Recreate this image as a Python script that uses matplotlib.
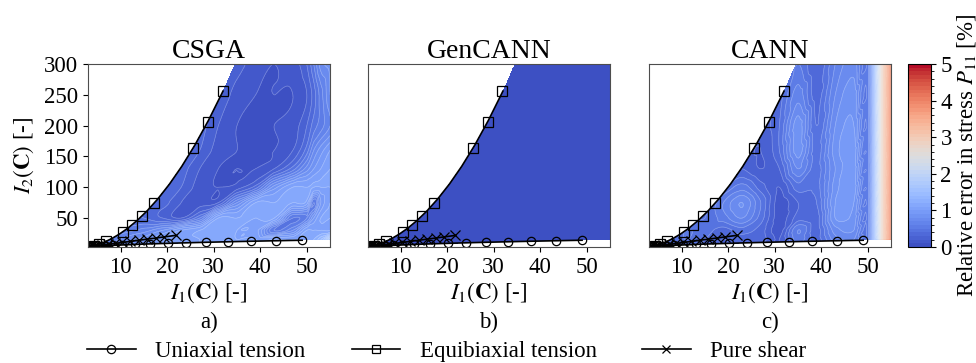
import numpy as np
import matplotlib
matplotlib.use("Agg")
import matplotlib.pyplot as plt
import matplotlib.tri as mtri
from matplotlib.lines import Line2D
from matplotlib.ticker import MultipleLocator

plt.rcParams['font.family'] = 'serif'
plt.rcParams['font.serif'] = ['Liberation Serif', 'DejaVu Serif']
plt.rcParams['mathtext.fontset'] = 'stix'
plt.rcParams['font.size'] = 16.5

# load paths (invariant space)
ua_I1 = [3.0, 3.1, 3.4, 3.9, 4.6, 5.6, 6.8, 8.3, 10.4, 13.0, 16.3, 20.1, 24.0, 28.4, 33.0, 38.0, 43.3, 49.0]
ua_I2 = [3.0, 3.1, 3.34, 3.65, 4.04, 4.55, 5.07, 5.63, 6.34, 7.14, 8.02, 8.91, 9.76, 10.63, 11.46, 12.31, 13.14, 13.98]

eq_I1 = [3.0, 3.4, 4.2, 5.3, 6.9, 10.5, 12.5, 14.6, 17.2, 25.6, 28.7, 31.9]
eq_I2 = [3.0, 3.5, 4.9, 7.3, 12.2, 27.5, 39.4, 53.4, 73.9, 163.5, 206.5, 256.5]

eq_line_I1 = [3.0, 3.36, 4.18, 5.27, 6.58, 8.06, 9.72, 11.55, 13.54, 15.70, 18.01, 20.49, 23.13, 25.93, 28.88, 32.0]
eq_line_I2 = [3.0, 3.46, 4.86, 7.34, 11.11, 16.5, 23.84, 33.52, 45.99, 61.72, 81.22, 105.05, 133.8, 168.1, 208.7, 256.1]

ps_I1 = [3.0, 3.2, 3.6, 4.2, 5.0, 6.0, 7.2, 8.7, 10.3, 12.1, 13.9, 15.7, 17.6, 19.3, 21.8]
ps_I2 = [3.0, 3.2, 3.6, 4.2, 5.0, 6.0, 7.2, 8.7, 10.3, 12.1, 13.9, 15.7, 17.6, 19.3, 21.8]

# edges of the filled region beyond the last data points
lower_end = (55.0, 14.8)
upper_end = (34.6, 300.0)

# coarse error estimates [%] on a grid (rows: I2, cols: I1)
grid_I1 = [3, 7, 11, 15, 19, 23, 27, 31, 35, 39, 43, 47, 50, 51.5, 53, 55]
grid_I2 = [3, 15, 30, 50, 75, 100, 130, 160, 200, 250, 300]

csga_err = [
    [0.5, 0.7, 0.8, 0.9, 1.0, 1.05, 1.1, 1.1, 1.1, 1.1, 1.1, 1.1, 1.1, 1.3, 1.6, 2.0],
    [0.5, 0.6, 0.75, 0.85, 1.0, 1.05, 1.1, 1.1, 1.1, 1.1, 1.1, 1.1, 1.1, 1.2, 1.4, 1.8],
    [0.5, 0.5, 0.55, 0.65, 0.8, 1.0, 1.1, 1.1, 1.1, 1.05, 0.5, 0.7, 1.1, 1.1, 1.1, 1.1],
    [0.4, 0.4, 0.45, 0.4, 0.3, 0.2, 0.5, 1.1, 1.1, 1.1, 1.1, 0.5, 0.6, 0.9, 1.1, 1.1],
    [0.4, 0.4, 0.4, 0.4, 0.35, 0.2, 0.15, 0.2, 0.7, 1.1, 1.1, 1.1, 1.05, 0.5, 0.9, 1.1],
    [0.4, 0.4, 0.4, 0.4, 0.4, 0.3, 0.15, 0.1, 0.15, 0.35, 0.85, 1.1, 1.1, 1.1, 1.1, 1.1],
    [0.4, 0.4, 0.4, 0.4, 0.4, 0.35, 0.2, 0.1, 0.1, 0.1, 0.2, 0.45, 0.75, 0.9, 1.0, 1.1],
    [0.4, 0.4, 0.4, 0.4, 0.4, 0.4, 0.3, 0.15, 0.1, 0.1, 0.1, 0.2, 0.45, 0.7, 0.85, 1.0],
    [0.4, 0.4, 0.4, 0.4, 0.4, 0.4, 0.35, 0.2, 0.1, 0.1, 0.1, 0.15, 0.3, 0.45, 0.55, 0.7],
    [0.4, 0.4, 0.4, 0.4, 0.4, 0.4, 0.4, 0.3, 0.15, 0.1, 0.1, 0.1, 0.2, 0.35, 0.55, 0.8],
    [0.4, 0.4, 0.4, 0.4, 0.4, 0.4, 0.4, 0.35, 0.25, 0.15, 0.1, 0.15, 0.3, 0.5, 0.75, 0.85],
]

gencann_err = [
    [0.05, 0.05, 0.05, 0.05, 0.05, 0.05, 0.05, 0.05, 0.05, 0.05, 0.05, 0.05, 0.05, 0.05, 0.05, 0.05],
    [0.05, 0.05, 0.05, 0.05, 0.05, 0.05, 0.05, 0.05, 0.05, 0.05, 0.05, 0.05, 0.05, 0.05, 0.05, 0.05],
    [0.05, 0.05, 0.05, 0.05, 0.05, 0.05, 0.05, 0.05, 0.05, 0.05, 0.05, 0.05, 0.05, 0.05, 0.05, 0.05],
    [0.05, 0.05, 0.05, 0.05, 0.05, 0.05, 0.05, 0.05, 0.05, 0.05, 0.05, 0.05, 0.05, 0.05, 0.05, 0.05],
    [0.05, 0.05, 0.05, 0.05, 0.05, 0.05, 0.05, 0.05, 0.05, 0.05, 0.05, 0.05, 0.05, 0.05, 0.05, 0.05],
    [0.05, 0.05, 0.05, 0.05, 0.05, 0.05, 0.05, 0.05, 0.05, 0.05, 0.05, 0.05, 0.05, 0.05, 0.05, 0.05],
    [0.05, 0.05, 0.05, 0.05, 0.05, 0.05, 0.05, 0.05, 0.05, 0.05, 0.05, 0.05, 0.05, 0.05, 0.05, 0.05],
    [0.05, 0.05, 0.05, 0.05, 0.05, 0.05, 0.05, 0.05, 0.05, 0.05, 0.05, 0.05, 0.05, 0.05, 0.05, 0.05],
    [0.05, 0.05, 0.05, 0.05, 0.05, 0.05, 0.05, 0.05, 0.05, 0.05, 0.05, 0.05, 0.05, 0.05, 0.05, 0.05],
    [0.05, 0.05, 0.05, 0.05, 0.05, 0.05, 0.05, 0.05, 0.05, 0.05, 0.05, 0.05, 0.05, 0.05, 0.05, 0.05],
    [0.05, 0.05, 0.05, 0.05, 0.05, 0.05, 0.05, 0.05, 0.05, 0.05, 0.05, 0.05, 0.05, 0.05, 0.05, 0.05],
]

cann_err = [
    [0.3, 0.4, 0.45, 0.35, 0.3, 0.3, 0.3, 0.2, 0.45, 0.3, 0.55, 0.65, 0.55, 1.4, 2.7, 3.9],
    [0.3, 0.4, 0.5, 0.4, 0.3, 0.35, 0.35, 0.2, 0.55, 0.35, 0.65, 0.7, 0.55, 1.4, 2.7, 3.9],
    [0.3, 0.35, 0.5, 0.45, 0.35, 0.45, 0.35, 0.15, 0.6, 0.35, 0.75, 0.8, 0.55, 1.4, 2.7, 3.9],
    [0.3, 0.3, 0.4, 0.4, 0.55, 0.7, 0.45, 0.15, 0.35, 0.35, 0.9, 0.85, 0.55, 1.4, 2.7, 3.9],
    [0.3, 0.3, 0.3, 0.35, 0.6, 0.8, 0.5, 0.15, 0.3, 0.4, 0.9, 0.9, 0.55, 1.4, 2.7, 3.9],
    [0.3, 0.3, 0.3, 0.3, 0.4, 0.55, 0.35, 0.2, 0.45, 0.45, 0.85, 0.95, 0.55, 1.4, 2.7, 3.9],
    [0.3, 0.3, 0.3, 0.3, 0.3, 0.3, 0.2, 0.3, 0.7, 0.45, 0.8, 0.95, 0.55, 1.4, 2.7, 3.9],
    [0.3, 0.3, 0.3, 0.3, 0.3, 0.25, 0.2, 0.4, 0.85, 0.45, 0.85, 0.95, 0.55, 1.4, 2.7, 3.9],
    [0.3, 0.3, 0.3, 0.3, 0.3, 0.25, 0.25, 0.4, 0.85, 0.4, 0.8, 0.9, 0.55, 1.4, 2.7, 3.9],
    [0.3, 0.3, 0.3, 0.3, 0.3, 0.25, 0.25, 0.35, 0.65, 0.35, 0.7, 0.85, 0.55, 1.4, 2.7, 3.9],
    [0.3, 0.3, 0.3, 0.3, 0.3, 0.25, 0.25, 0.3, 0.5, 0.3, 0.6, 0.75, 0.55, 1.4, 2.7, 3.9],
]

titles = ['CSGA', 'GenCANN', 'CANN']
tags = ['a)', 'b)', 'c)']
fields = [csga_err, gencann_err, cann_err]

# triangulation of the coarse grid
nx, ny = len(grid_I1), len(grid_I2)
GX, GY = np.meshgrid(grid_I1, grid_I2)
idx = np.arange(nx * ny).reshape(ny, nx)
a = idx[:-1, :-1].ravel()
b = idx[:-1, 1:].ravel()
c = idx[1:, 1:].ravel()
d = idx[1:, :-1].ravel()
triangles = np.concatenate([np.stack([a, b, c], 1), np.stack([a, c, d], 1)])
tri = mtri.Triangulation(GX.ravel(), GY.ravel(), triangles)

XF, YF = np.meshgrid(np.linspace(3, 55, 420), np.linspace(3, 300, 420))
low_x = ua_I1 + [lower_end[0]]
low_y = ua_I2 + [lower_end[1]]
up_x = eq_line_I1 + [upper_end[0]]
up_y = eq_line_I2 + [upper_end[1]]
outside = (YF > np.interp(XF, up_x, up_y)) | (YF < np.interp(XF, low_x, low_y))

levels = np.linspace(0, 5, 51)

fig = plt.figure(figsize=(9.76, 3.63), dpi=100)
lefts = [0.0902, 0.377, 0.665]
bottom, height, width = 0.3196, 0.504, 0.248
axes = [fig.add_axes([l, bottom, width, height]) for l in lefts]
cax = fig.add_axes([0.930, bottom, 0.0236, height])

mk = dict(color='black', mfc='none', mec='black', mew=0.9, lw=1.2)

for ax, title, tag, err in zip(axes, titles, tags, fields):
    interp = mtri.CubicTriInterpolator(tri, np.asarray(err, float).ravel(), kind='geom')
    Z = np.clip(np.asarray(interp(XF, YF)), 0.02, 5)
    Z = np.ma.masked_where(outside, Z)
    cs = ax.contourf(XF, YF, Z, levels=levels, cmap='coolwarm', vmin=0, vmax=5)
    if Z.max() - Z.min() > 0.05:
        ax.contour(XF, YF, Z, levels=levels, colors='white', linewidths=0.5, alpha=0.3)

    ax.plot(ua_I1, ua_I2, marker='o', ms=6, **mk)
    ax.plot(eq_line_I1, eq_line_I2, '-', color='black', lw=1.2)
    ax.plot(eq_I1, eq_I2, ls='none', marker='s', ms=7, mfc='none', mec='black', mew=0.9)
    ax.plot(ps_I1, ps_I2, marker='x', ms=7, **mk)

    ax.set_xlim(3, 55)
    ax.set_ylim(3, 300)
    ax.set_xticks([10, 20, 30, 40, 50])
    ax.set_title(title, fontsize=20, pad=3)
    ax.set_xlabel(r'$I_1(\mathbf{C})$ [-]', labelpad=2)
    ax.text(0.5, -0.41, tag, transform=ax.transAxes, ha='center', va='center')
    for s in ax.spines.values():
        s.set_color('0.3')
        s.set_linewidth(0.8)

axes[0].set_yticks([50, 100, 150, 200, 250, 300])
axes[0].set_ylabel(r'$I_2(\mathbf{C})$ [-]', labelpad=6)
for ax in axes[1:]:
    ax.set_yticks([])

cbar = fig.colorbar(cs, cax=cax, ticks=[0, 1, 2, 3, 4, 5])
cbar.ax.yaxis.set_minor_locator(MultipleLocator(0.2))
cbar.set_label(r'Relative error in stress $P_{11}$ [%]', labelpad=2)

handles = [
    Line2D([], [], marker='o', ms=6, **mk),
    Line2D([], [], marker='s', ms=6, **mk),
    Line2D([], [], marker='x', ms=6, **mk),
]
fig.legend(handles, ['Uniaxial tension', 'Equibiaxial tension', 'Pure shear'],
           loc='center', bbox_to_anchor=(0.458, 0.031), ncol=3, frameon=False,
           handlelength=2.1, handletextpad=0.87, columnspacing=2.0)

fig.savefig('out.png', dpi=100)
